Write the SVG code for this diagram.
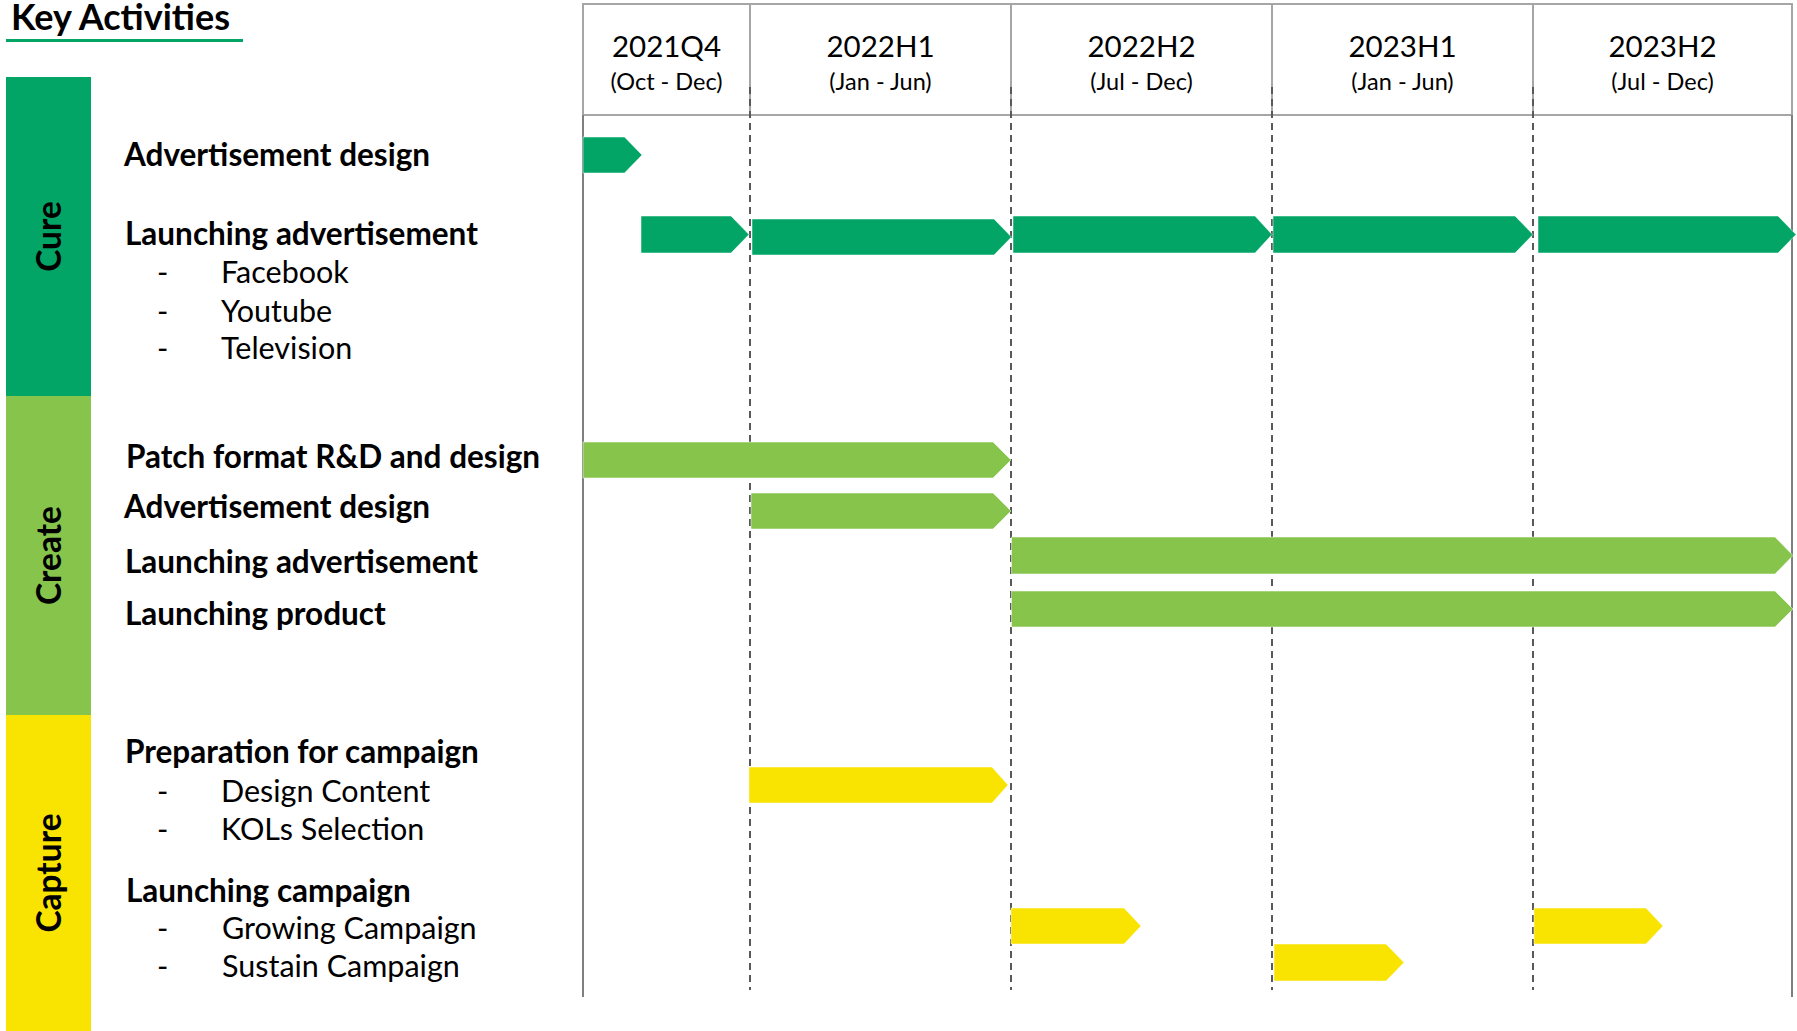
<svg xmlns="http://www.w3.org/2000/svg" width="1797" height="1031" viewBox="0 0 1797 1031">
  <style>
    text { font-family: "Source Sans Pro", Lato, "Liberation Sans", sans-serif; fill: #000; }
    .title { font-size: 36px; font-weight: 700; }
    .band { font-size: 33.5px; font-weight: 700; text-anchor: middle; }
    .head { font-size: 31.5px; font-weight: 700; }
    .item { font-size: 30.5px; font-weight: 400; }
    .col1 { font-size: 29.5px; text-anchor: middle; }
    .col2 { font-size: 23.5px; text-anchor: middle; }
    .cure { fill: #02A566; }
    .create { fill: #86C44C; }
    .capture { fill: #F9E300; }
    .bar { stroke: #ffffff; stroke-opacity: 0.5; stroke-width: 1; }
    .hdr { fill: none; stroke: #A6A6A6; stroke-width: 2; }
    .edge { stroke: #7F7F7F; stroke-width: 2; }
    .dash { stroke: #595959; stroke-width: 2; stroke-dasharray: 7 5; }
  </style>

  <rect width="1797" height="1031" fill="#ffffff"/>

  <!-- heading -->
  <g id="title">
    <text class="title" x="11" y="30">Key Activities</text>
    <rect x="6" y="39" width="237" height="3" fill="#02A566"/>
  </g>

  <!-- phase bands -->
  <g id="band-cure">
    <rect class="cure" x="6" y="77" width="85" height="319"/>
    <text class="band" transform="translate(61 236.5) rotate(-90)">Cure</text>
  </g>
  <g id="band-create">
    <rect class="create" x="6" y="396" width="85" height="319"/>
    <text class="band" transform="translate(61 555.5) rotate(-90)">Create</text>
  </g>
  <g id="band-capture">
    <rect class="capture" x="6" y="715" width="85" height="316"/>
    <text class="band" transform="translate(61 873) rotate(-90)">Capture</text>
  </g>

  <!-- activity labels -->
  <g id="labels-cure">
    <text class="head" x="124" y="166">Advertisement design</text>
    <text class="head" x="125" y="245">Launching advertisement</text>
    <text class="item" x="157" y="283">-</text><text class="item" x="221" y="283">Facebook</text>
    <text class="item" x="157" y="322">-</text><text class="item" x="221" y="322">Youtube</text>
    <text class="item" x="157" y="359">-</text><text class="item" x="221" y="359">Television</text>
  </g>
  <g id="labels-create">
    <text class="head" x="126" y="468">Patch format R&amp;D and design</text>
    <text class="head" x="124" y="518">Advertisement design</text>
    <text class="head" x="125" y="573">Launching advertisement</text>
    <text class="head" x="125" y="625">Launching product</text>
  </g>
  <g id="labels-capture">
    <text class="head" x="125" y="763">Preparation for campaign</text>
    <text class="item" x="157" y="802">-</text><text class="item" x="221" y="802">Design Content</text>
    <text class="item" x="157" y="840">-</text><text class="item" x="221" y="840">KOLs Selection</text>
    <text class="head" x="126" y="902">Launching campaign</text>
    <text class="item" x="157" y="939">-</text><text class="item" x="222" y="939">Growing Campaign</text>
    <text class="item" x="157" y="977">-</text><text class="item" x="222" y="977">Sustain Campaign</text>
  </g>

  <!-- timeline grid -->
  <g id="grid">
    <rect class="hdr" x="583" y="4" width="1209" height="111"/>
    <line class="hdr" x1="750" y1="4" x2="750" y2="115"/>
    <line class="hdr" x1="1011" y1="4" x2="1011" y2="115"/>
    <line class="hdr" x1="1272" y1="4" x2="1272" y2="115"/>
    <line class="hdr" x1="1533" y1="4" x2="1533" y2="115"/>
    <line class="edge" x1="583" y1="115" x2="583" y2="997"/>
    <line class="edge" x1="1792" y1="115" x2="1792" y2="997"/>
    <line class="dash" x1="750" y1="87" x2="750" y2="990"/>
    <line class="dash" x1="1011" y1="87" x2="1011" y2="990"/>
    <line class="dash" x1="1272" y1="87" x2="1272" y2="990"/>
    <line class="dash" x1="1533" y1="87" x2="1533" y2="990"/>
  </g>

  <!-- period headers -->
  <g id="periods">
    <text class="col1" x="666.5" y="57">2021Q4</text><text class="col2" x="666.5" y="90">(Oct - Dec)</text>
    <text class="col1" x="880.5" y="57">2022H1</text><text class="col2" x="880.5" y="90">(Jan - Jun)</text>
    <text class="col1" x="1141.5" y="57">2022H2</text><text class="col2" x="1141.5" y="90">(Jul - Dec)</text>
    <text class="col1" x="1402.5" y="57">2023H1</text><text class="col2" x="1402.5" y="90">(Jan - Jun)</text>
    <text class="col1" x="1662.5" y="57">2023H2</text><text class="col2" x="1662.5" y="90">(Jul - Dec)</text>
  </g>

  <!-- schedule bars -->
  <g id="bars-cure">
    <polygon class="cure bar" points="583,137 624.5,137 642,155 624.5,173 583,173"/>
    <polygon class="cure bar" points="641,216 731,216 749,234.5 731,253 641,253"/>
    <polygon class="cure bar" points="752,219 994,219 1011.5,237 994,255 752,255"/>
    <polygon class="cure bar" points="1013,216 1255,216 1272,234.5 1255,253 1013,253"/>
    <polygon class="cure bar" points="1273,216 1515,216 1533,234.5 1515,253 1273,253"/>
    <polygon class="cure bar" points="1538,216 1778,216 1796,234.5 1778,253 1538,253"/>
  </g>
  <g id="bars-create">
    <polygon class="create bar" points="583,442 993,442 1011,460 993,478 583,478"/>
    <polygon class="create bar" points="751,493 993,493 1011,511 993,529 751,529"/>
    <polygon class="create bar" points="1011.5,537 1775,537 1793,555.5 1775,574 1011.5,574"/>
    <polygon class="create bar" points="1011.5,591 1775,591 1793,609 1775,627 1011.5,627"/>
  </g>
  <g id="bars-capture">
    <polygon class="capture bar" points="749,767 992,767 1008,785 992,803 749,803"/>
    <polygon class="capture bar" points="1011,908 1124,908 1141,926 1124,944 1011,944"/>
    <polygon class="capture bar" points="1274,944 1386,944 1404,962.5 1386,981 1274,981"/>
    <polygon class="capture bar" points="1534,908 1646,908 1663,926 1646,944 1534,944"/>
  </g>
</svg>
